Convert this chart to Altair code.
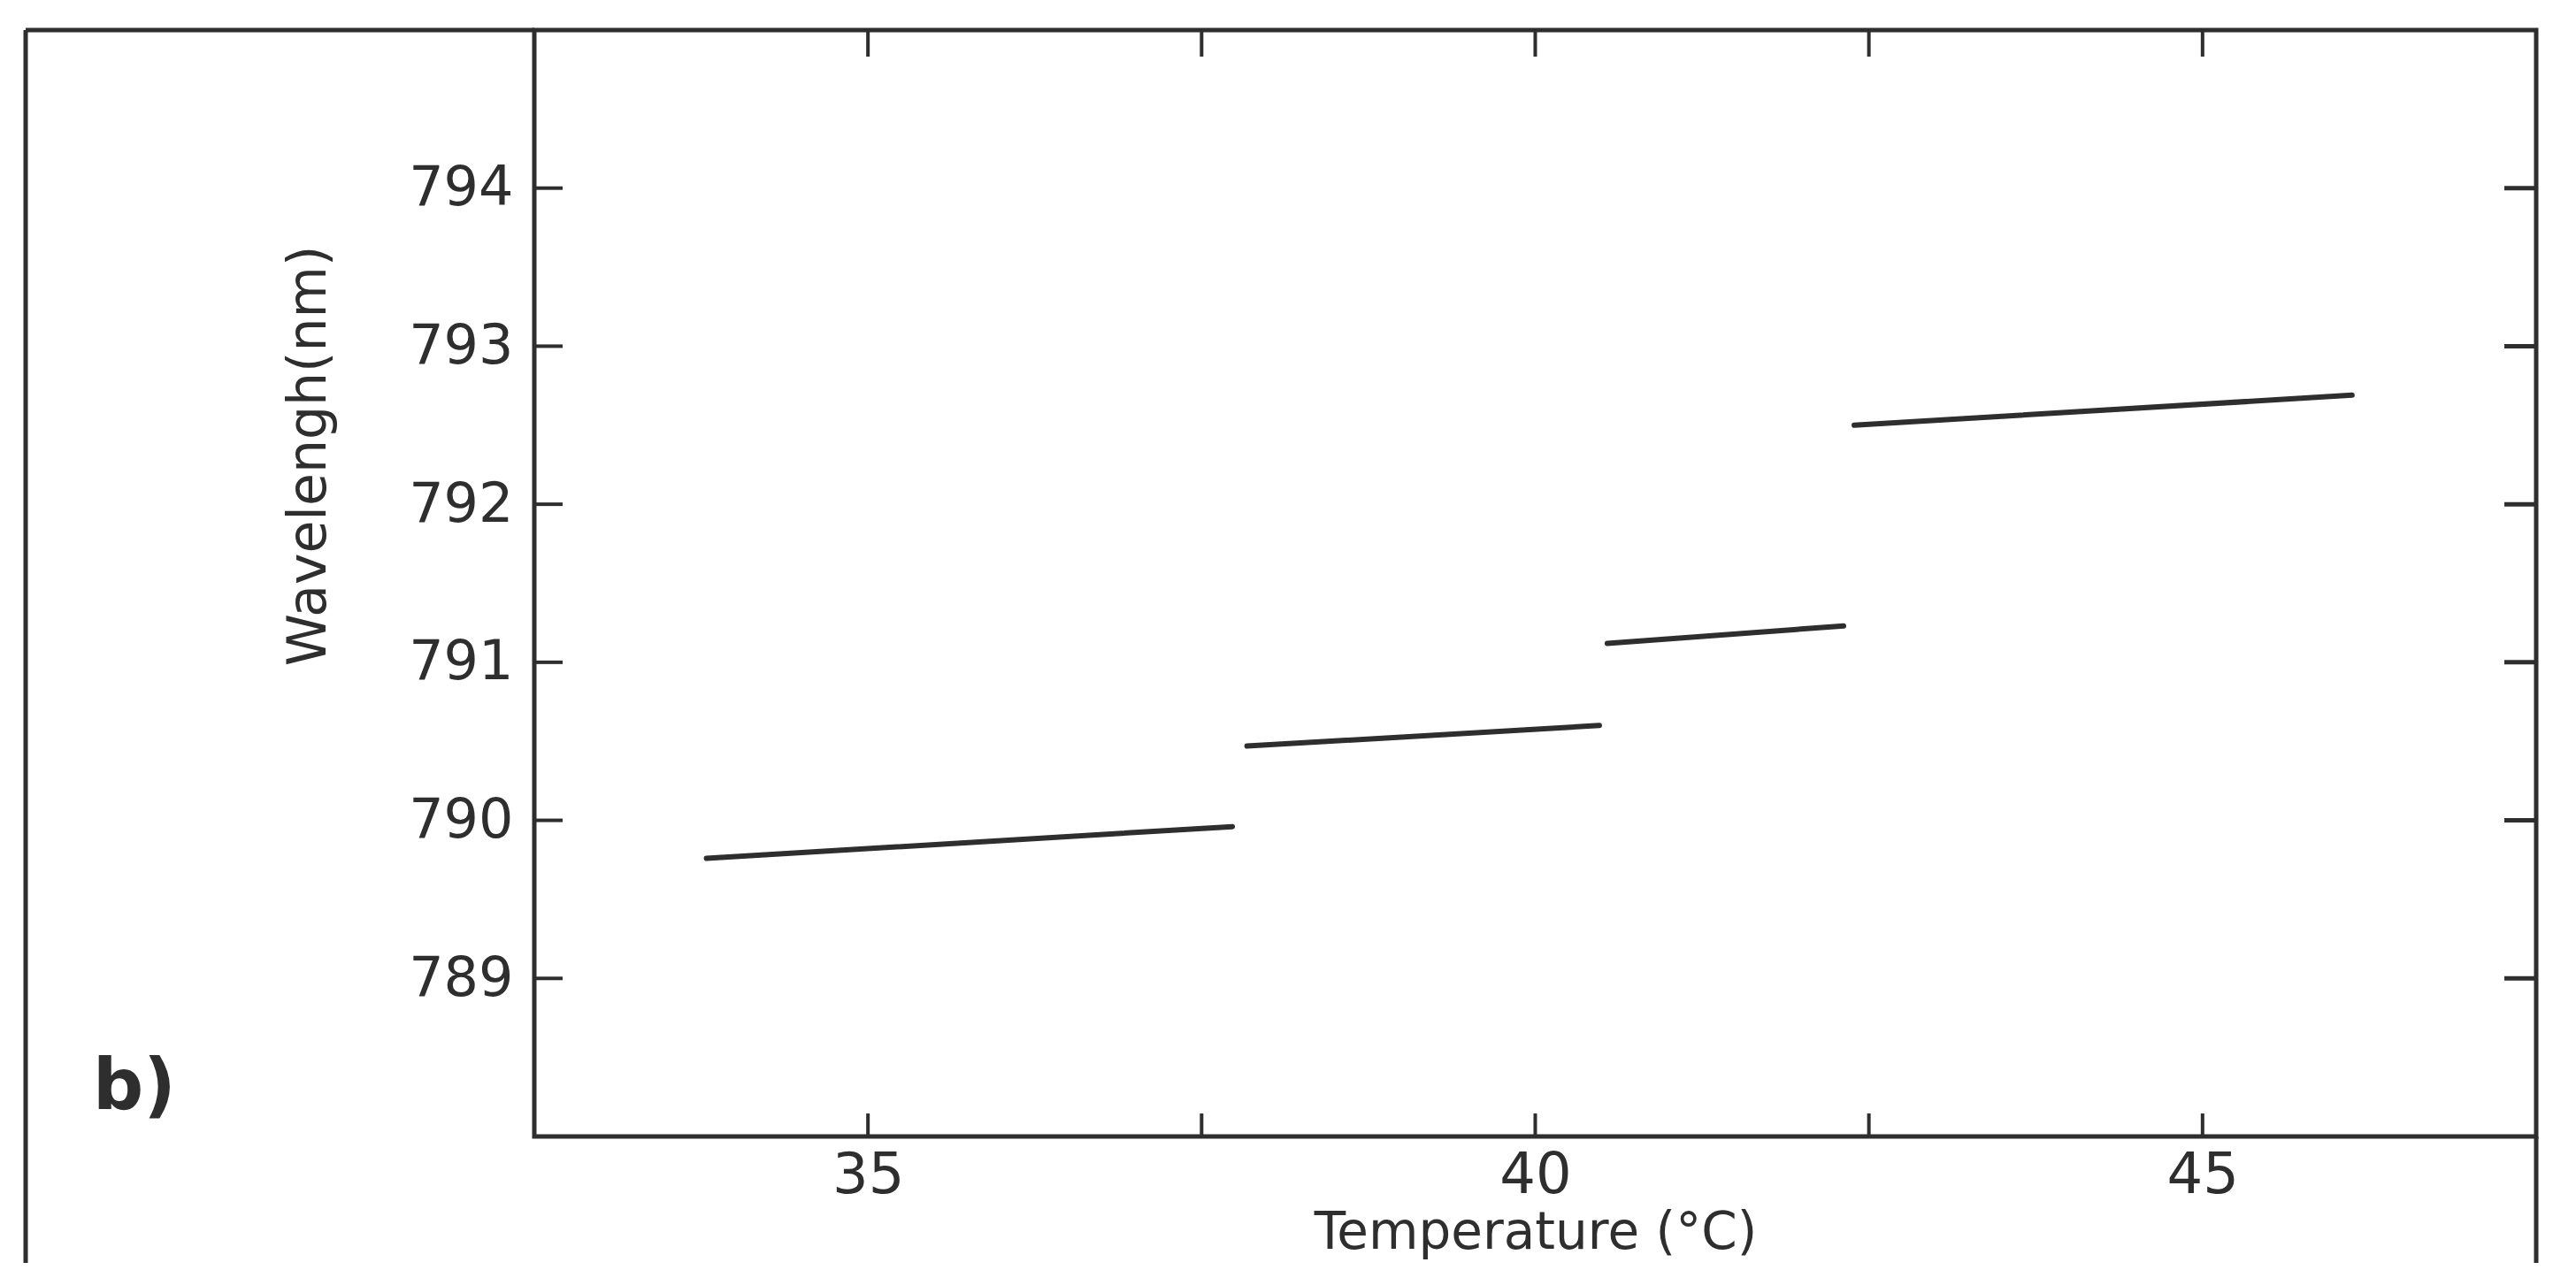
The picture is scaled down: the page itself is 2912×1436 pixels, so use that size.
import altair as alt
import pandas as pd

# ---- data ----
seg_id = [1, 1, 2, 2, 3, 3, 4, 4]
temperature = [33.79, 37.73, 37.84, 40.48, 40.54, 42.31, 42.39, 46.12]
wavelength = [789.76, 789.96, 790.47, 790.60, 791.12, 791.23, 792.50, 792.69]

x_labels = [35, 40, 45]
x_ticks = [35, 37.5, 40, 42.5, 45]
y_ticks = [789, 790, 791, 792, 793, 794]

panel_label = ["b)"]

# ---- geometry / style ----
W, H = 2263, 1251
INK = "#2e2e2e"
FONT = "DejaVu Sans"

xscale = alt.Scale(domain=[32.5, 47.5], nice=False, zero=False)
yscale = alt.Scale(domain=[788, 795], nice=False, zero=False)

xaxis = alt.Axis(values=x_labels, title="Temperature (°C)", ticks=False, domain=False,
                 grid=False, labelFontSize=64, labelPadding=12, labelColor=INK,
                 labelFont=FONT, titleFont=FONT, titleFontSize=58, titleFontWeight="normal",
                 titleColor=INK, titleY=126, titleBaseline="alphabetic", format="d")
yaxis = alt.Axis(values=y_ticks, title="Wavelengh(nm)", ticks=False, domain=False,
                 grid=False, labelFontSize=62, labelPadding=24, labelColor=INK,
                 labelFont=FONT, titleFont=FONT, titleFontSize=60, titleFontWeight="normal",
                 titleColor=INK, titleAngle=270, titleX=-255, titleY=481,
                 titleAlign="center", titleBaseline="middle", format="d")

seg_df = pd.DataFrame({"seg": seg_id, "T": temperature, "wl": wavelength})
xt_df = pd.DataFrame({"T": x_ticks})
yt_df = pd.DataFrame({"wl": y_ticks})
lab_df = pd.DataFrame({"txt": panel_label})

lines = alt.Chart(seg_df).mark_line(color=INK, strokeWidth=6, strokeCap="round").encode(
    x=alt.X("T:Q", scale=xscale, axis=xaxis),
    y=alt.Y("wl:Q", scale=yscale, axis=yaxis),
    detail="seg:N",
)

bottom_ticks = alt.Chart(xt_df).mark_rule(color=INK, strokeWidth=4).encode(
    x=alt.X("T:Q", scale=xscale, axis=xaxis),
    y=alt.value(H), y2=alt.value(H - 26),
)
top_ticks = alt.Chart(xt_df).mark_rule(color=INK, strokeWidth=4).encode(
    x=alt.X("T:Q", scale=xscale, axis=xaxis),
    y=alt.value(0), y2=alt.value(30),
)
left_ticks = alt.Chart(yt_df).mark_rule(color=INK, strokeWidth=4).encode(
    y=alt.Y("wl:Q", scale=yscale, axis=yaxis),
    x=alt.value(0), x2=alt.value(32),
)
right_ticks = alt.Chart(yt_df).mark_rule(color=INK, strokeWidth=5).encode(
    y=alt.Y("wl:Q", scale=yscale, axis=yaxis),
    x=alt.value(W - 36), x2=alt.value(W),
)

# outer figure frame (left edge and top extension)
outer_left = alt.Chart(lab_df).mark_rule(color=INK, strokeWidth=5).encode(
    x=alt.value(-575), y=alt.value(0), y2=alt.value(1420),
)
outer_top = alt.Chart(lab_df).mark_rule(color=INK, strokeWidth=5).encode(
    x=alt.value(-575), x2=alt.value(0), y=alt.value(0),
)
outer_right = alt.Chart(lab_df).mark_rule(color=INK, strokeWidth=5).encode(
    x=alt.value(W), y=alt.value(H), y2=alt.value(1420),
)

label = alt.Chart(lab_df).mark_text(font=FONT, fontSize=80, fontWeight="bold",
                                    color=INK, align="center", baseline="middle").encode(
    text="txt:N", x=alt.value(-452), y=alt.value(1196),
)

chart = alt.layer(
    lines, bottom_ticks, top_ticks, left_ticks, right_ticks,
    outer_left, outer_top, outer_right, label,
).properties(
    width=W, height=H,
    autosize=alt.AutoSizeParams(type="none"),
    padding={"left": 596, "top": 26, "right": 37, "bottom": 143},
    background="white",
).configure_view(stroke=INK, strokeWidth=5)

chart.save("out.html", embed_options={"renderer": "svg", "actions": False})
